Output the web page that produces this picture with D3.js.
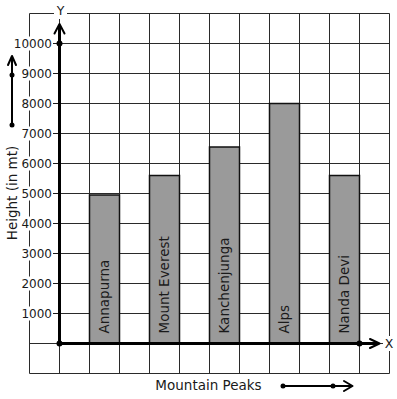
<!DOCTYPE html>
<html>
<head>
<meta charset="utf-8">
<script src="https://cdn.jsdelivr.net/npm/d3@7"></script>
<style>
  body { margin: 0; background: #fff; }
  text { font-family: "DejaVu Sans", sans-serif; fill: #1a1a1a; }
</style>
</head>
<body>
<script>
var width = 397;
var height = 399;

// data
var peaks = ["Annapurna", "Mount Everest", "Kanchenjunga", "Alps", "Nanda Devi"];
var heights = [4950, 5600, 6550, 8000, 5600];
var yTicks = [1000, 2000, 3000, 4000, 5000, 6000, 7000, 8000, 9000, 10000];

var svg = d3.select("body")
    .append("svg")
    .attr("width", width)
    .attr("height", height);

var y = d3.scaleLinear().domain([0, 10000]).range([343.5, 43.5]);
var x = d3.scaleBand().domain(peaks).range([59.5, 389.5])
    .paddingInner(0.5).paddingOuter(0.5);
// grid columns, same spacing as the bars
var gx = d3.scaleLinear().domain([0, 12]).range([29.5, 389.5]);

// graph paper
var grid = svg.append("g").attr("stroke", "#2a2a2a").attr("stroke-width", 1);
grid.selectAll("line.v")
    .data(d3.range(0, 13))
    .enter().append("line")
    .attr("class", "v")
    .attr("x1", function(d) { return gx(d); })
    .attr("x2", function(d) { return gx(d); })
    .attr("y1", y(11000))
    .attr("y2", y(-1000));
grid.selectAll("line.h")
    .data(d3.range(-1000, 11001, 1000))
    .enter().append("line")
    .attr("class", "h")
    .attr("x1", gx(0))
    .attr("x2", gx(12))
    .attr("y1", function(d) { return y(d); })
    .attr("y2", function(d) { return y(d); });

// bars
svg.append("g")
    .selectAll("rect")
    .data(peaks)
    .enter().append("rect")
    .attr("x", function(d) { return x(d); })
    .attr("width", x.bandwidth())
    .attr("y", function(d, i) { return y(heights[i]); })
    .attr("height", function(d, i) { return y(0) - y(heights[i]); })
    .attr("fill", "#9a9a9a")
    .attr("stroke", "#111")
    .attr("stroke-width", 1.5);

svg.append("g")
    .selectAll("text")
    .data(peaks)
    .enter().append("text")
    .attr("transform", function(d) {
        return "translate(" + (x(d) + x.bandwidth() / 2) + "," + (y(0) - 10) + ") rotate(-90)";
    })
    .attr("dy", "0.35em")
    .attr("font-size", 13.5)
    .text(function(d) { return d; });

// y tick labels with white backing
var ticks = svg.append("g");
ticks.selectAll("rect")
    .data(yTicks)
    .enter().append("rect")
    .attr("x", 28)
    .attr("y", function(d) { return y(d) - 7; })
    .attr("width", 25)
    .attr("height", 14)
    .attr("fill", "#fff");
ticks.selectAll("line")
    .data(yTicks)
    .enter().append("line")
    .attr("x1", 53).attr("x2", 59)
    .attr("y1", function(d) { return y(d); })
    .attr("y2", function(d) { return y(d); })
    .attr("stroke", "#1a1a1a");
ticks.selectAll("text")
    .data(yTicks)
    .enter().append("text")
    .attr("x", 52)
    .attr("y", function(d) { return y(d); })
    .attr("dy", "0.36em")
    .attr("text-anchor", "end")
    .attr("font-size", 12)
    .text(function(d) { return d; });

// axes
var axes = svg.append("g").attr("stroke", "#000").attr("fill", "none")
    .attr("stroke-linecap", "round").attr("stroke-linejoin", "round");
axes.append("line")
    .attr("x1", 59.5).attr("x2", 59.5)
    .attr("y1", y(0)).attr("y2", 26)
    .attr("stroke-width", 3);
axes.append("path")
    .attr("d", "M54.5,33.5 L59.5,24 L64.5,33.5")
    .attr("stroke-width", 2);
axes.append("line")
    .attr("x1", 59.5).attr("x2", 377)
    .attr("y1", y(0)).attr("y2", y(0))
    .attr("stroke-width", 3);
axes.append("path")
    .attr("d", "M370,339 L379.5,343.5 L370,348")
    .attr("stroke-width", 2);

svg.append("g").selectAll("circle")
    .data([[59.5, y(0)], [59.5, y(10000)], [359.5, y(0)]])
    .enter().append("circle")
    .attr("cx", function(d) { return d[0]; })
    .attr("cy", function(d) { return d[1]; })
    .attr("r", 3)
    .attr("fill", "#000");

// axis letters
svg.append("rect").attr("x", 54).attr("y", 4).attr("width", 13).attr("height", 15).attr("fill", "#fff");
svg.append("text").attr("x", 60.5).attr("y", 15).attr("text-anchor", "middle")
    .attr("font-size", 12.5).text("Y");
svg.append("rect").attr("x", 383).attr("y", 336).attr("width", 12).attr("height", 15).attr("fill", "#fff");
svg.append("text").attr("x", 389).attr("y", y(0)).attr("dy", "0.36em").attr("text-anchor", "middle")
    .attr("font-size", 12.5).text("X");

// axis titles
svg.append("text")
    .attr("transform", "translate(17,193) rotate(-90)")
    .attr("text-anchor", "middle")
    .attr("font-size", 13.5)
    .text("Height (in mt)");
svg.append("text")
    .attr("x", 208.5).attr("y", 390)
    .attr("text-anchor", "middle")
    .attr("font-size", 13.5)
    .text("Mountain Peaks");

// direction arrows
var arrows = svg.append("g").attr("stroke", "#000").attr("fill", "none")
    .attr("stroke-width", 2).attr("stroke-linecap", "round").attr("stroke-linejoin", "round");
arrows.append("line").attr("x1", 12).attr("x2", 12).attr("y1", 125).attr("y2", 58);
arrows.append("path").attr("d", "M8,65 L12,56 L16,65");
arrows.append("line").attr("x1", 283).attr("x2", 351).attr("y1", 386).attr("y2", 386);
arrows.append("path").attr("d", "M344,381 L352.5,386 L344,391");

svg.append("g").selectAll("circle")
    .data([[12, 75], [12, 125], [283, 386], [333, 386]])
    .enter().append("circle")
    .attr("cx", function(d) { return d[0]; })
    .attr("cy", function(d) { return d[1]; })
    .attr("r", 2.5)
    .attr("fill", "#000");
</script>
</body>
</html>
